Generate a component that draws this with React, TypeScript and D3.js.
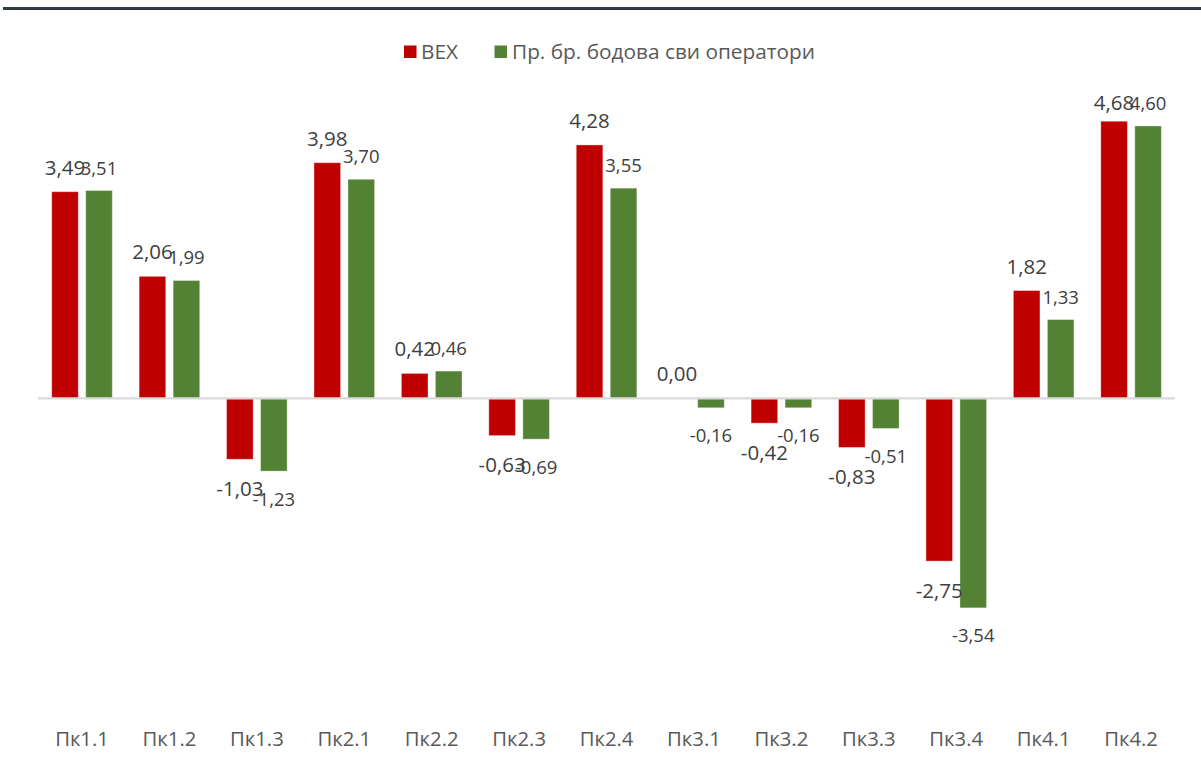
import * as d3 from 'd3';

const categories = ['Пк1.1', 'Пк1.2', 'Пк1.3', 'Пк2.1', 'Пк2.2', 'Пк2.3', 'Пк2.4', 'Пк3.1', 'Пк3.2', 'Пк3.3', 'Пк3.4', 'Пк4.1', 'Пк4.2'];
const vexValues = [3.49, 2.06, -1.03, 3.98, 0.42, -0.63, 4.28, 0.0, -0.42, -0.83, -2.75, 1.82, 4.68];
const operatorValues = [3.51, 1.99, -1.23, 3.7, 0.46, -0.69, 3.55, -0.16, -0.16, -0.51, -3.54, 1.33, 4.6];
const seriesNames = ['ВЕХ', 'Пр. бр. бодова сви оператори'];
const seriesColors = ['#C00000', '#548235'];

const W = 1201;
const H = 769;
const FONT = '"Open Sans", sans-serif';

const fmt = (v: number) => v.toFixed(2).replace('.', ',');

export default function App() {
  const x = d3.scaleBand<string>()
    .domain(categories)
    .range([38.3, 1174.8])
    .paddingInner(0.307)
    .paddingOuter(0.1535);
  const xs = d3.scaleBand<string>()
    .domain(seriesNames)
    .range([0, x.bandwidth()])
    .paddingInner(0.218);
  const y = d3.scaleLinear().domain([-5, 5]).range([694.3, 102.3]);

  const series = [vexValues, operatorValues];
  // label styling per series: red labels are a bit larger
  const labelSize = [20.5, 18.5];
  const labelUp = [25, 23.5];
  const labelDown = [28.5, 27];

  return (
    <svg width={W} height={H} style={{ position: 'absolute', left: 0, top: 0, background: '#fff' }}>
      <rect x={3} y={7} width={W - 3} height={3} fill="#323a46" />

      {/* legend */}
      <g fontFamily={FONT} fontSize={20.8} fill="#595959">
        <rect x={404} y={45.5} width={12.5} height={12.5} fill={seriesColors[0]} />
        <text x={421} y={58.5}>{seriesNames[0]}</text>
        <rect x={494.5} y={45.5} width={12.5} height={12.5} fill={seriesColors[1]} />
        <text x={512} y={58.5}>{seriesNames[1]}</text>
      </g>

      {/* bars */}
      {series.map((vals, si) => (
        <g key={si}>
          {vals.map((v, i) => {
            const bx = (x(categories[i]) ?? 0) + (xs(seriesNames[si]) ?? 0);
            const top = Math.min(y(v), y(0));
            const h = Math.abs(y(v) - y(0));
            return (
              <rect key={i} x={bx} y={top} width={xs.bandwidth()} height={h}
                fill={seriesColors[si]} stroke="#fff" strokeOpacity={0.35} strokeWidth={1} />
            );
          })}
        </g>
      ))}

      {/* zero line */}
      <line x1={x.range()[0]} x2={x.range()[1]} y1={y(0)} y2={y(0)} stroke="#d9d9d9" strokeWidth={2.2} />

      {/* data labels */}
      {series.map((vals, si) => (
        <g key={si} fontFamily={FONT} fontSize={labelSize[si]} fill="#404040" textAnchor="middle">
          {vals.map((v, i) => {
            const cx = (x(categories[i]) ?? 0) + (xs(seriesNames[si]) ?? 0) + xs.bandwidth() / 2;
            let ly = v >= 0 ? y(v) - labelUp[si] : y(v) + labelDown[si];
            ly = Math.max(ly, 101.5);
            return (
              <text key={i} x={cx} y={ly} dominantBaseline="central">{fmt(v)}</text>
            );
          })}
        </g>
      ))}

      {/* category axis */}
      <g fontFamily={FONT} fontSize={20.3} fill="#595959" textAnchor="middle">
        {categories.map((c) => (
          <text key={c} x={(x(c) ?? 0) + x.bandwidth() / 2} y={746}>{c}</text>
        ))}
      </g>
    </svg>
  );
}
